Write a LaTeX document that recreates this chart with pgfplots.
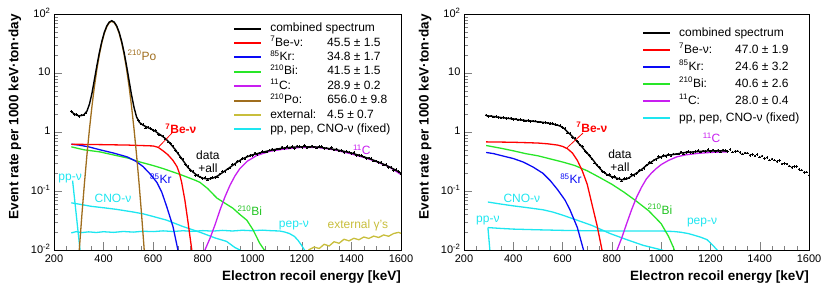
\documentclass[border=0pt]{standalone}
\usepackage{pgfplots}
\usepackage{pgfplotstable}
\pgfplotsset{compat=1.18}
\usepackage{fontspec}
\setmainfont{Liberation Sans}
\definecolor{cRed}{RGB}{255,0,0}
\definecolor{cBlue}{RGB}{10,10,245}
\definecolor{cGreen}{RGB}{40,230,40}
\definecolor{cMag}{RGB}{200,30,240}
\definecolor{cBrown}{RGB}{160,110,30}
\definecolor{cOlive}{RGB}{200,190,60}
\definecolor{cCyan}{RGB}{30,230,240}

% ---------- left panel data ----------
\pgfplotstableread{
x y
270 2.25
280 2.0
290 1.97
300 1.85
310 1.93
320 1.96
330 2.12
540 1.56
550 1.36
560 1.33
570 1.18
580 1.22
590 1.14
600 1.06
610 1.07
620 0.912
630 0.89
640 0.855
650 0.762
660 0.672
670 0.643
680 0.582
690 0.485
700 0.434
710 0.372
720 0.347
730 0.281
740 0.26
750 0.223
760 0.214
770 0.185
780 0.185
790 0.174
800 0.162
810 0.17
820 0.154
830 0.162
840 0.17
850 0.17
860 0.173
870 0.196
880 0.213
890 0.213
900 0.237
910 0.247
920 0.284
930 0.281
940 0.322
950 0.32
960 0.357
970 0.347
980 0.391
990 0.399
1000 0.402
1010 0.441
1020 0.413
1030 0.44
1040 0.467
1050 0.46
1060 0.456
1070 0.495
1080 0.515
1090 0.49
1100 0.52
1110 0.512
1120 0.557
1130 0.521
1140 0.565
1150 0.532
1160 0.563
1170 0.527
1180 0.575
1190 0.566
1200 0.551
1210 0.591
1220 0.54
1230 0.562
1240 0.578
1250 0.554
1260 0.535
1270 0.563
1280 0.568
1290 0.523
1300 0.537
1310 0.514
1320 0.542
1330 0.493
1340 0.52
1350 0.475
1360 0.49
1370 0.447
1380 0.474
1390 0.455
1400 0.431
1410 0.449
1420 0.399
1430 0.404
1440 0.404
1450 0.376
1460 0.353
1470 0.363
1480 0.358
1490 0.322
1500 0.323
1510 0.302
1520 0.311
1530 0.275
1540 0.283
1550 0.252
1560 0.253
1570 0.224
1580 0.231
1590 0.214
1600 0.196
}\leftdata

\pgfplotstableread{
x y
270 2.2
280 2.05
290 1.95
300 1.88
310 1.9
320 1.95
333 2.26
343 2.96
353 4.5
363 7.7
373 13.3
383 22.2
393 34.4
403 48.8
413 62.7
423 73
433 76.8
443 73
453 62.7
463 48.7
473 34.3
483 22.1
493 13.1
503 7.4
513 4.2
523 2.6
533 1.8
545 1.45
550 1.4
560 1.3
570 1.24
580 1.18
590 1.13
600 1.08
610 1.02
620 0.95
630 0.89
640 0.83
650 0.77
660 0.70
670 0.63
680 0.56
690 0.50
700 0.43
710 0.38
720 0.33
730 0.29
740 0.25
750 0.23
760 0.21
770 0.195
780 0.18
790 0.172
800 0.165
810 0.162
820 0.16
830 0.162
840 0.165
850 0.172
860 0.18
870 0.192
880 0.205
890 0.22
900 0.235
910 0.252
920 0.27
930 0.29
940 0.31
950 0.33
960 0.35
970 0.365
980 0.38
990 0.395
1000 0.41
1020 0.43
1040 0.453
1060 0.475
1080 0.495
1100 0.515
1120 0.53
1140 0.543
1160 0.552
1180 0.558
1200 0.562
1220 0.563
1240 0.561
1260 0.557
1280 0.546
1300 0.532
1320 0.516
1340 0.5
1360 0.48
1380 0.46
1400 0.44
1420 0.416
1440 0.392
1460 0.368
1480 0.344
1500 0.32
1520 0.296
1540 0.272
1560 0.248
1580 0.224
1600 0.2
}\leftfit

% ---------- right panel data ----------
\pgfplotstableread{
x y
290 1.94
300 1.85
310 1.87
320 1.79
330 1.83
340 1.78
350 1.73
360 1.77
370 1.70
380 1.72
390 1.71
400 1.64
410 1.66
420 1.59
430 1.62
440 1.58
450 1.54
460 1.58
470 1.52
480 1.535
490 1.535
500 1.475
510 1.49
520 1.43
530 1.46
540 1.42
550 1.38
560 1.40
570 1.33
580 1.31
590 1.285
600 1.19
610 1.15
620 0.97
630 0.94
640 0.80
650 0.783
660 0.687
670 0.598
680 0.578
690 0.47
700 0.44
710 0.402
720 0.347
730 0.298
740 0.275
750 0.255
760 0.213
770 0.207
780 0.186
790 0.191
800 0.17
810 0.177
820 0.16
830 0.163
840 0.147
850 0.162
860 0.162
870 0.165
880 0.189
890 0.182
900 0.2
910 0.221
920 0.228
930 0.24
940 0.275
950 0.302
960 0.301
970 0.333
980 0.343
990 0.383
1000 0.369
1010 0.406
1020 0.388
1030 0.413
1040 0.39
1050 0.427
1060 0.424
1070 0.421
1080 0.462
1090 0.427
1100 0.45
1110 0.467
1120 0.452
1130 0.442
1140 0.472
1150 0.485
1160 0.456
1170 0.478
1180 0.466
1190 0.502
1200 0.466
1210 0.499
1220 0.466
1230 0.49
1240 0.456
1250 0.494
1260 0.485
1270 0.47
1280 0.502
1290 0.456
1300 0.47
1310 0.479
1320 0.45
1330 0.427
1340 0.444
1350 0.442
1360 0.403
1370 0.414
1380 0.392
1390 0.415
1400 0.378
1410 0.395
1420 0.359
1430 0.367
1440 0.333
1450 0.35
1460 0.333
1470 0.314
1480 0.326
1490 0.288
1500 0.29
1510 0.288
1520 0.267
1530 0.25
1540 0.26
1550 0.26
1560 0.233
1570 0.227
1580 0.206
1590 0.21
1600 0.184
}\rightdata

\pgfplotstableread{
x y
290 1.9
300 1.87
320 1.83
340 1.78
360 1.74
380 1.7
400 1.66
420 1.62
440 1.58
460 1.55
480 1.52
500 1.49
520 1.46
540 1.42
560 1.37
580 1.3
590 1.26
600 1.2
610 1.11
620 1.0
630 0.92
640 0.84
650 0.76
660 0.68
670 0.61
680 0.55
690 0.49
700 0.44
710 0.39
720 0.35
730 0.31
740 0.27
750 0.245
760 0.22
770 0.205
780 0.19
790 0.182
800 0.175
810 0.17
820 0.165
830 0.16
840 0.155
850 0.157
860 0.16
870 0.168
880 0.18
890 0.19
900 0.2
910 0.215
920 0.23
930 0.25
940 0.27
950 0.29
960 0.31
970 0.33
980 0.35
990 0.365
1000 0.38
1010 0.39
1020 0.4
1040 0.41
1060 0.42
1080 0.44
1100 0.45
1130 0.46
1160 0.47
1190 0.478
1220 0.48
1270 0.48
}\rightfit

\pgfkeys{/pgf/number format/assume math mode=true}
\pgfkeys{/pgf/number format/1000 sep={}}
\tikzset{lab/.style={font=\fontsize{12}{13}\selectfont, inner sep=0pt}}
\pgfplotsset{
  every axis/.append style={
    scale only axis, height=236pt,
    xmin=200, xmax=1600, ymin=0.01, ymax=100,
    xtick={200,400,600,800,1000,1200,1400,1600}, minor x tick num=3,
    ytick={0.01,0.1,1,10,100},
    yticklabels={10\textsuperscript{-2},10\textsuperscript{-1},1,10,10\textsuperscript{2}},
    minor ytick={0.02,0.03,0.04,0.05,0.06,0.07,0.08,0.09,0.2,0.3,0.4,0.5,0.6,0.7,0.8,0.9,2,3,4,5,6,7,8,9,20,30,40,50,60,70,80,90},
    tick align=inside, tick pos=left,
    major tick length=8pt, minor tick length=4pt,
    ticklabel style={font=\fontsize{11}{13}\selectfont},
    xticklabel style={yshift=-1.5pt},
    yticklabel style={yshift=1pt},
    xlabel={Electron recoil energy [keV]},
    ylabel={Event rate per 1000 keV·ton·day},
    label style={font=\bfseries\fontsize{13.5}{16}\selectfont},
    xlabel style={at={(rel axis cs:1,-0.1144)}, anchor=east, inner sep=0pt},
    ylabel style={at={(rel axis cs:-0.1124,1)}, anchor=east, inner sep=0pt},
    axis line style={line width=0.6pt},
    legend cell align=left,
    legend style={draw=none, fill=white, inner sep=0pt, anchor=north west,
      font=\fontsize{12}{14}\selectfont,
      nodes={inner sep=0pt, text height=9pt, text depth=3pt}},
  },
  legend image code/.code={\draw[#1, line width=2pt] (0pt,0pt) -- (27pt,0pt);},
  comp/.style={line width=1.3pt, forget plot},
}
\pgfplotsset{
  datapts/.style={black, only marks, mark=*, mark size=0.55pt, forget plot,
      error bars/y dir=both, error bars/y explicit relative,
      error bars/x dir=both, error bars/x explicit,
      error bars/error mark=none, error bars/error bar style={line width=0.45pt}},
}

\begin{document}
\begin{tikzpicture}
\useasboundingbox (0,0) rectangle (830pt,291pt);

% ================= LEFT PANEL =================
\begin{semilogyaxis}[at={(54pt,41pt)}, anchor=south west, width=347pt,
  legend style={at={(0.516,0.964)}, row sep=2.4pt, /tikz/every odd column/.append style={column sep=8pt}}]
\addlegendimage{black}
\addlegendentry{combined spectrum}
\addlegendimage{cRed}
\addlegendentry{\makebox[57pt][l]{\textsuperscript{7}Be-ν:}45.5 ± 1.5}
\addlegendimage{cBlue}
\addlegendentry{\makebox[57pt][l]{\textsuperscript{85}Kr:}34.8 ± 1.7}
\addlegendimage{cGreen}
\addlegendentry{\makebox[57pt][l]{\textsuperscript{210}Bi:}41.5 ± 1.5}
\addlegendimage{cMag}
\addlegendentry{\makebox[57pt][l]{\textsuperscript{11}C:}28.9 ± 0.2}
\addlegendimage{cBrown}
\addlegendentry{\makebox[57pt][l]{\textsuperscript{210}Po:}656.0 ± 9.8}
\addlegendimage{cOlive}
\addlegendentry{\makebox[57pt][l]{external:}4.5 ± 0.7}
\addlegendimage{cCyan}
\addlegendentry{pp, pep, CNO-ν (fixed)}

\addplot[comp, cCyan] coordinates {(275,0.15) (290,0.039) (305,0.01) (310,0.0063)};
\addplot[comp, cCyan] coordinates {(270,0.063) (300,0.06) (350,0.055) (400,0.052) (450,0.049) (520,0.044) (560,0.041) (600,0.037) (655,0.032) (720,0.025) (789,0.02) (850,0.016) (896,0.014) (930,0.011) (950,0.01) (965,0.0088)};
\addplot[comp, cCyan] coordinates {(270,0.0195) (290,0.0205) (310,0.0197) (340,0.0203) (370,0.0198) (400,0.0204) (440,0.0199) (480,0.0206) (520,0.0201) (560,0.0208) (600,0.0205) (640,0.0211) (680,0.0206) (720,0.0212) (760,0.0207) (800,0.0213) (840,0.0209) (880,0.0215) (920,0.021) (960,0.0216) (1000,0.0212) (1040,0.0217) (1080,0.0212) (1110,0.021) (1130,0.0202) (1150,0.019) (1170,0.017) (1185,0.0145) (1200,0.0118) (1212,0.0098) (1225,0.0078)};
\addplot[comp, cOlive] coordinates {(1215,0.0088) (1230,0.0102) (1250,0.0112) (1270,0.0106) (1290,0.0125) (1310,0.0117) (1330,0.0138) (1350,0.013) (1370,0.0152) (1390,0.0143) (1410,0.0158) (1430,0.0149) (1450,0.0166) (1470,0.0157) (1490,0.0172) (1510,0.0163) (1530,0.018) (1550,0.0171) (1570,0.019) (1590,0.0199) (1600,0.0192)};
\addplot[comp, cGreen] coordinates {(270,0.56) (320,0.5) (385,0.46) (450,0.4) (500,0.36) (547,0.31) (600,0.27) (640,0.24) (680,0.21) (710,0.19) (740,0.17) (770,0.152) (789,0.14) (820,0.11) (857,0.076) (890,0.062) (922,0.051) (950,0.04) (978,0.032) (1003,0.022) (1030,0.013) (1050,0.0098) (1060,0.008)};
\addplot[comp, cBlue] coordinates {(270,0.62) (300,0.6) (340,0.56) (385,0.5) (440,0.44) (494,0.38) (530,0.32) (559,0.26) (590,0.19) (615,0.14) (635,0.095) (655,0.054) (680,0.025) (700,0.01) (710,0.006)};
\addplot[comp, cRed] coordinates {(270,0.62) (400,0.61) (500,0.6) (600,0.58) (620,0.55) (640,0.48) (660,0.41) (680,0.33) (696,0.26) (706,0.2) (715,0.14) (728,0.07) (741,0.029) (756,0.01) (765,0.005)};
\addplot[comp, cMag] coordinates {(800,0.0065) (809,0.01) (830,0.016) (850,0.027) (870,0.048) (890,0.08) (910,0.125) (930,0.18) (950,0.24) (980,0.32) (1018,0.4) (1070,0.47) (1123,0.51) (1190,0.545) (1260,0.55) (1330,0.5) (1395,0.43) (1450,0.37) (1487,0.33) (1550,0.26) (1600,0.19)};
\addplot[comp, cBrown] coordinates {(293,0.0028) (303,0.0114) (313,0.0418) (323,0.138) (333,0.413) (343,1.11) (353,2.69) (363,5.86) (373,11.5) (383,20.4) (393,32.6) (403,47.0) (413,60.9) (423,71.2) (433,75) (443,71.2) (453,60.9) (463,47.0) (473,32.6) (483,20.4) (493,11.5) (503,5.86) (513,2.69) (523,1.11) (533,0.413) (543,0.138) (553,0.0418) (563,0.0114) (573,0.0028)};
\addplot[black, line width=1.4pt, forget plot] table[x=x, y=y] {\leftfit};
\addplot[datapts] table[x=x, y=y, x error expr=5, y error expr=0.05] {\leftdata};

\node[lab, cBrown] at (axis cs:555,20) {\textsuperscript{210}Po};
\draw[cRed, line width=0.8pt] (axis cs:619,0.54) -- (axis cs:676,0.96);
\node[lab, cRed, font=\bfseries\fontsize{12}{13}\selectfont] at (axis cs:712,1.12) {\textsuperscript{7}Be-ν};
\node[lab, align=center] at (axis cs:821,0.31) {data\\+all};
\node[lab, cBlue] at (axis cs:631,0.16) {\textsuperscript{85}Kr};
\node[lab, cGreen!85!black] at (axis cs:990,0.046) {\textsuperscript{210}Bi};
\node[lab, cMag] at (axis cs:1442,0.5) {\textsuperscript{11}C};
\node[lab, cCyan] at (axis cs:265,0.16) {pp-ν};
\node[lab, cCyan] at (axis cs:438,0.074) {CNO-ν};
\node[lab, cCyan] at (axis cs:1168,0.026) {pep-ν};
\node[lab, cOlive] at (axis cs:1426,0.026) {external γ's};
\end{semilogyaxis}

% ================= RIGHT PANEL =================
\begin{semilogyaxis}[at={(464pt,41pt)}, anchor=south west, width=345pt,
  legend style={at={(0.516,0.945)}, row sep=5pt, /tikz/every odd column/.append style={column sep=8pt}}]
\addlegendimage{black}
\addlegendentry{combined spectrum}
\addlegendimage{cRed}
\addlegendentry{\makebox[56pt][l]{\textsuperscript{7}Be-ν:}47.0 ± 1.9}
\addlegendimage{cBlue}
\addlegendentry{\makebox[56pt][l]{\textsuperscript{85}Kr:}24.6 ± 3.2}
\addlegendimage{cGreen}
\addlegendentry{\makebox[56pt][l]{\textsuperscript{210}Bi:}40.6 ± 2.6}
\addlegendimage{cMag}
\addlegendentry{\makebox[56pt][l]{\textsuperscript{11}C:}28.0 ± 0.4}
\addlegendimage{cCyan}
\addlegendentry{pp, pep, CNO-ν (fixed)}

\addplot[comp, cCyan] coordinates {(297,0.024) (305,0.01) (308,0.0075)};
\addplot[comp, cCyan] coordinates {(297,0.024) (350,0.0232) (400,0.0226) (500,0.022) (600,0.0215) (700,0.0212) (800,0.021) (900,0.021) (1000,0.021) (1050,0.0206) (1080,0.02) (1110,0.019) (1130,0.018) (1160,0.0165) (1186,0.015) (1210,0.012) (1227,0.01) (1240,0.008)};
\addplot[comp, cCyan] coordinates {(297,0.065) (350,0.06) (400,0.056) (460,0.052) (521,0.048) (560,0.044) (600,0.039) (659,0.032) (720,0.026) (793,0.019) (860,0.015) (927,0.012) (1003,0.01) (1020,0.0092)};
\addplot[comp, cGreen] coordinates {(290,0.59) (350,0.53) (400,0.48) (450,0.43) (500,0.395) (550,0.35) (600,0.31) (650,0.27) (700,0.22) (750,0.17) (800,0.13) (850,0.095) (900,0.067) (950,0.046) (1000,0.028) (1030,0.017) (1050,0.011) (1065,0.007)};
\addplot[comp, cBlue] coordinates {(290,0.45) (320,0.43) (360,0.39) (400,0.355) (440,0.31) (480,0.255) (520,0.2) (550,0.15) (580,0.105) (610,0.07) (630,0.048) (660,0.024) (685,0.01) (700,0.005)};
\addplot[comp, cRed] coordinates {(290,0.68) (400,0.67) (500,0.65) (540,0.63) (580,0.6) (600,0.57) (620,0.52) (640,0.44) (660,0.33) (680,0.22) (700,0.13) (720,0.058) (740,0.026) (760,0.01) (770,0.0055)};
\addplot[comp, cMag] coordinates {(812,0.0065) (821,0.01) (840,0.016) (860,0.028) (880,0.048) (900,0.078) (920,0.115) (940,0.16) (960,0.2) (980,0.24) (1000,0.28) (1030,0.33) (1064,0.38) (1100,0.41) (1150,0.435) (1200,0.45) (1250,0.46) (1270,0.46)};
\addplot[black, line width=1.4pt, forget plot] table[x=x, y=y] {\rightfit};
\addplot[datapts] table[x=x, y=y, x error expr=5, y error expr=0.05] {\rightdata};

\draw[cRed, line width=0.8pt] (axis cs:618,0.54) -- (axis cs:683,0.96);
\node[lab, cRed, font=\bfseries\fontsize{12}{13}\selectfont] at (axis cs:719,1.2) {\textsuperscript{7}Be-ν};
\node[lab, align=center] at (axis cs:833,0.32) {data\\+all};
\node[lab, cBlue] at (axis cs:634,0.16) {\textsuperscript{85}Kr};
\node[lab, cGreen!85!black] at (axis cs:995,0.049) {\textsuperscript{210}Bi};
\node[lab, cMag] at (axis cs:1205,0.8) {\textsuperscript{11}C};
\node[lab, cCyan] at (axis cs:435,0.076) {CNO-ν};
\node[lab, cCyan] at (axis cs:297,0.032) {pp-ν};
\node[lab, cCyan] at (axis cs:1166,0.029) {pep-ν};
\end{semilogyaxis}
\end{tikzpicture}
\end{document}
